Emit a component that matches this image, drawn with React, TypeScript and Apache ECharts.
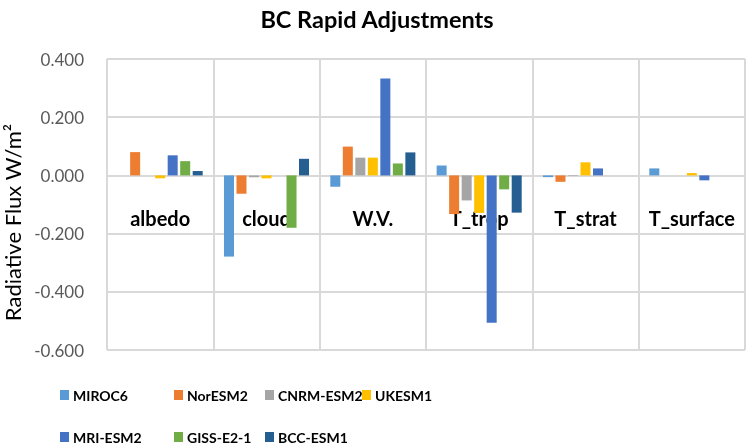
import React, { useEffect, useRef } from "react";
import * as echarts from "echarts";

const categories = ["albedo", "cloud", "W.V.", "T_trop", "T_strat", "T_surface"];
const seriesNames = ["MIROC6", "NorESM2", "CNRM-ESM2", "UKESM1", "MRI-ESM2", "GISS-E2-1", "BCC-ESM1"];
const MIROC6 = [0.0, -0.279, -0.039, 0.034, -0.006, 0.024];
const NorESM2 = [0.08, -0.063, 0.099, -0.133, -0.022, 0.0];
const CNRM_ESM2 = [0.0, -0.006, 0.061, -0.086, -0.002, 0.0];
const UKESM1 = [-0.01, -0.01, 0.061, -0.129, 0.045, 0.008];
const MRI_ESM2 = [0.069, 0.0, 0.333, -0.506, 0.024, -0.017];
const GISS_E2_1 = [0.049, -0.18, 0.041, -0.048, 0.0, 0.0];
const BCC_ESM1 = [0.015, 0.057, 0.079, -0.128, 0.0, 0.0];
const seriesValues = [MIROC6, NorESM2, CNRM_ESM2, UKESM1, MRI_ESM2, GISS_E2_1, BCC_ESM1];
const colors = ["#5B9BD5", "#ED7D31", "#A5A5A5", "#FFC000", "#4472C4", "#70AD47", "#255E91"];
const legendLefts = [60, 174, 265, 362, 60, 174, 265];
const legendTops = [387, 387, 387, 387, 429, 429, 429];

const FONT = "Lato, 'Open Sans', sans-serif";

export default function App() {
  const ref = useRef<HTMLDivElement>(null);
  useEffect(() => {
    if (!ref.current) return;
    const chart = echarts.init(ref.current, undefined, { renderer: "svg" });
    chart.setOption({
      animation: false,
      color: colors,
      title: {
        text: "BC Rapid Adjustments",
        left: 372,
        textAlign: "center",
        top: 2,
        textStyle: { fontFamily: FONT, fontSize: 23.5, fontWeight: "bold", color: "#000" },
      },
      legend: seriesNames.map((name, i) => ({
        data: [name],
        left: legendLefts[i],
        top: legendTops[i],
        itemWidth: 9,
        itemHeight: 10,
        itemGap: 0,
        padding: 0,
        icon: "rect",
        textStyle: { fontFamily: FONT, fontSize: 14, lineHeight: 16, fontWeight: "bold", color: "#000", padding: [0, 0, 0, -1] },
      })),
      grid: { left: 107, right: 2, top: 59, bottom: 95, containLabel: false, outerBoundsMode: "none" },
      xAxis: {
        type: "category",
        data: categories,
        offset: -174.6,
        axisLine: { onZero: false, lineStyle: { color: "#d9d9d9", width: 2 } },
        axisTick: { show: false },
        splitLine: { show: true, lineStyle: { color: "#d9d9d9", width: 2 } },
        axisLabel: {
          margin: 33,
          fontFamily: FONT,
          fontSize: 20,
          fontWeight: "bold",
          color: "#000",
          interval: 0,
        },
      },
      yAxis: {
        type: "value",
        min: -0.6,
        max: 0.4,
        interval: 0.2,
        name: "Radiative Flux W/m²",
        nameLocation: "middle",
        nameGap: 80,
        nameTextStyle: { fontFamily: FONT, fontSize: 22, color: "#000", padding: [0, 36, 0, 0] },
        axisLine: { show: false },
        axisTick: { show: false },
        splitLine: { lineStyle: { color: "#d9d9d9", width: 2 } },
        axisLabel: {
          margin: 23,
          fontFamily: FONT,
          fontSize: 17,
          color: "#595959",
          formatter: (v: number) => v.toFixed(3),
        },
      },
      series: seriesNames.map((name, i) => ({
        name,
        type: "bar",
        data: seriesValues[i],
        barGap: "25%",
        barCategoryGap: "20%",
        itemStyle: { color: colors[i] },
      })),
    });
    return () => chart.dispose();
  }, []);
  return <div ref={ref} style={{ position: "fixed", left: 0, top: 0, width: 747, height: 445 }} />;
}
